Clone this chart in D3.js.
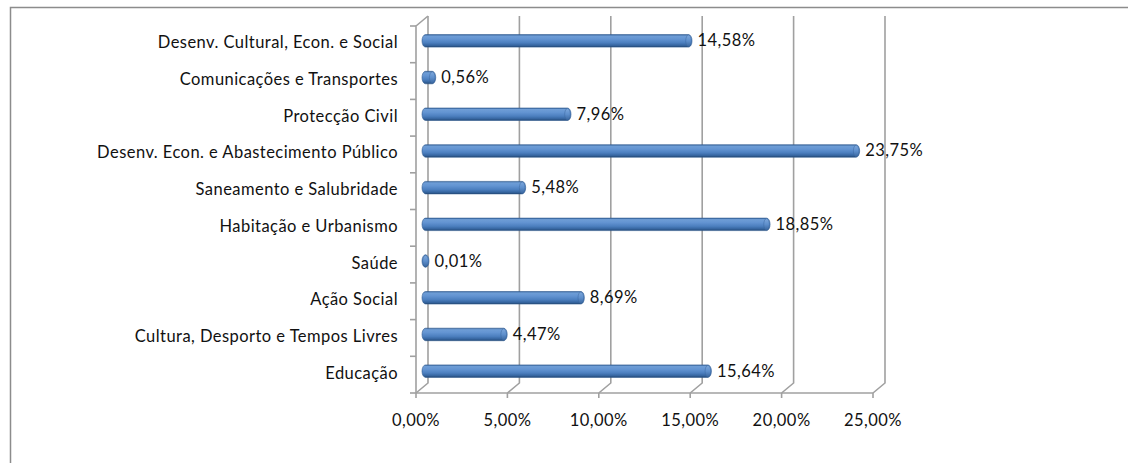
<!DOCTYPE html>
<html>
<head>
<meta charset="utf-8">
<script src="https://cdn.jsdelivr.net/npm/d3@7"></script>
<style>
  body { margin: 0; background: #fff; }
  text { font-family: Lato, "Open Sans", sans-serif; fill: #111; letter-spacing: 0.45px; }
</style>
</head>
<body>
<svg width="1128" height="463"></svg>
<script>
// categories from top to bottom, as in the picture
var categories = [
  "Desenv. Cultural, Econ. e Social",
  "Comunicações e Transportes",
  "Protecção Civil",
  "Desenv. Econ. e Abastecimento Público",
  "Saneamento e Salubridade",
  "Habitação e Urbanismo",
  "Saúde",
  "Ação Social",
  "Cultura, Desporto e Tempos Livres",
  "Educação"
];
var values = [14.58, 0.56, 7.96, 23.75, 5.48, 18.85, 0.01, 8.69, 4.47, 15.64];
var ticks = [0, 5, 10, 15, 20, 25];

var pt = d3.formatLocale({decimal: ",", thousands: ".", grouping: [3], currency: ["", "€"]});
var fmt = pt.format(".2f");
var pct = function (v) { return fmt(v) + "%"; };

var svg = d3.select("svg");
var fontSize = 16.5;

// depth of the 3d box
var dx = 12, dy = -10;

var x = d3.scaleLinear()
  .domain([0, 25])
  .range([416, 873]);

var y = d3.scaleBand()
  .domain(categories)
  .range([26, 393]);

var defs = svg.append("defs");
var grad = defs.append("linearGradient")
  .attr("id", "cyl")
  .attr("x1", 0).attr("y1", 0).attr("x2", 0).attr("y2", 1);
[[0, "#3a679f"], [0.12, "#6e9dd6"], [0.35, "#6394d2"], [0.65, "#4c7fbf"], [0.88, "#34639d"], [1, "#22466f"]]
  .forEach(function (s) {
    grad.append("stop").attr("offset", s[0]).attr("stop-color", s[1]);
  });
var capGrad = defs.append("linearGradient")
  .attr("id", "cap")
  .attr("x1", 0).attr("y1", 0).attr("x2", 0).attr("y2", 1);
[[0, "#7ea8dc"], [0.5, "#5e8fcc"], [1, "#3a679f"]]
  .forEach(function (s) {
    capGrad.append("stop").attr("offset", s[0]).attr("stop-color", s[1]);
  });

// outer border
svg.append("rect")
  .attr("x", 10.5).attr("y", 7.5)
  .attr("width", 1200).attr("height", 500)
  .attr("fill", "none")
  .attr("stroke", "#8c8c8c")
  .attr("stroke-width", 1.5);

var grid = svg.append("g")
  .attr("stroke", "#a0a0a0")
  .attr("stroke-width", 1.6)
  .attr("fill", "none");

var yTop = y.range()[0], yBottom = y.range()[1];

// back wall grid lines with their floor diagonals
grid.selectAll(".vgrid")
  .data(ticks)
  .enter().append("path")
  .attr("class", "vgrid")
  .attr("d", function (d) {
    return "M" + x(d) + "," + yBottom + "L" + (x(d) + dx) + "," + (yBottom + dy) +
      "L" + (x(d) + dx) + "," + (yTop + dy);
  });

// left wall front edge and top diagonal
grid.append("path")
  .attr("d", "M" + (x(0) + dx) + "," + (yTop + dy) + "L" + x(0) + "," + yTop + "L" + x(0) + "," + yBottom);

// floor front edge
grid.append("path")
  .attr("d", "M" + x(0) + "," + yBottom + "L" + x(25) + "," + yBottom);

// x ticks
grid.selectAll(".xt")
  .data(ticks)
  .enter().append("line")
  .attr("x1", function (d) { return x(d); })
  .attr("x2", function (d) { return x(d); })
  .attr("y1", yBottom).attr("y2", yBottom + 5);

// y ticks at band edges
var edges = categories.map(function (c) { return y(c); }).concat([yBottom]);
grid.selectAll(".yt")
  .data(edges)
  .enter().append("line")
  .attr("x1", x(0) - 6).attr("x2", x(0))
  .attr("y1", function (d) { return d; })
  .attr("y2", function (d) { return d; });

// x tick labels
svg.append("g").selectAll("text")
  .data(ticks)
  .enter().append("text")
  .attr("x", function (d) { return x(d); })
  .attr("y", yBottom + 33)
  .attr("text-anchor", "middle")
  .style("font-size", fontSize + "px")
  .text(function (d) { return pct(d); });

// category labels
svg.append("g").selectAll("text")
  .data(categories)
  .enter().append("text")
  .attr("x", 398)
  .attr("y", function (d) { return y(d) + y.bandwidth() / 2 + 4; })
  .attr("text-anchor", "end")
  .style("font-size", fontSize + "px")
  .text(function (d) { return d; });

// bars, as cylinders at half depth
var bh = 12.5;
var ox = dx / 2, oy = -3.5;
var rx = 3.5;
var bars = svg.append("g").selectAll("g")
  .data(values)
  .enter().append("g")
  .attr("transform", function (d, i) {
    return "translate(0," + (y(categories[i]) + y.bandwidth() / 2 + oy) + ")";
  });

bars.append("path")
  .attr("fill", "url(#cyl)")
  .attr("stroke", "#2f5b91")
  .attr("stroke-width", 0.6)
  .attr("d", function (d) {
    var x0 = x(0) + ox + rx, x1 = x(d) + ox;
    if (x1 < x0) x1 = x0;
    return "M" + x0 + "," + (-bh / 2) +
      "L" + x1 + "," + (-bh / 2) +
      "A" + rx + "," + (bh / 2) + " 0 0 1 " + x1 + "," + (bh / 2) +
      "L" + x0 + "," + (bh / 2) +
      "A" + rx + "," + (bh / 2) + " 0 0 1 " + x0 + "," + (-bh / 2) + "Z";
  });

bars.append("ellipse")
  .attr("cx", function (d) { return Math.max(x(d) + ox, x(0) + ox + rx); })
  .attr("cy", 0)
  .attr("rx", rx * 0.8)
  .attr("ry", bh / 2 - 0.5)
  .attr("fill", "url(#cap)")
  .attr("stroke", "#3a679f")
  .attr("stroke-width", 0.5);

// data labels
bars.append("text")
  .attr("x", function (d) { return Math.max(x(d) + ox, x(0) + ox + rx) + 9; })
  .attr("y", 5.5)
  .style("font-size", fontSize + "px")
  .text(function (d) { return pct(d); });
</script>
</body>
</html>
